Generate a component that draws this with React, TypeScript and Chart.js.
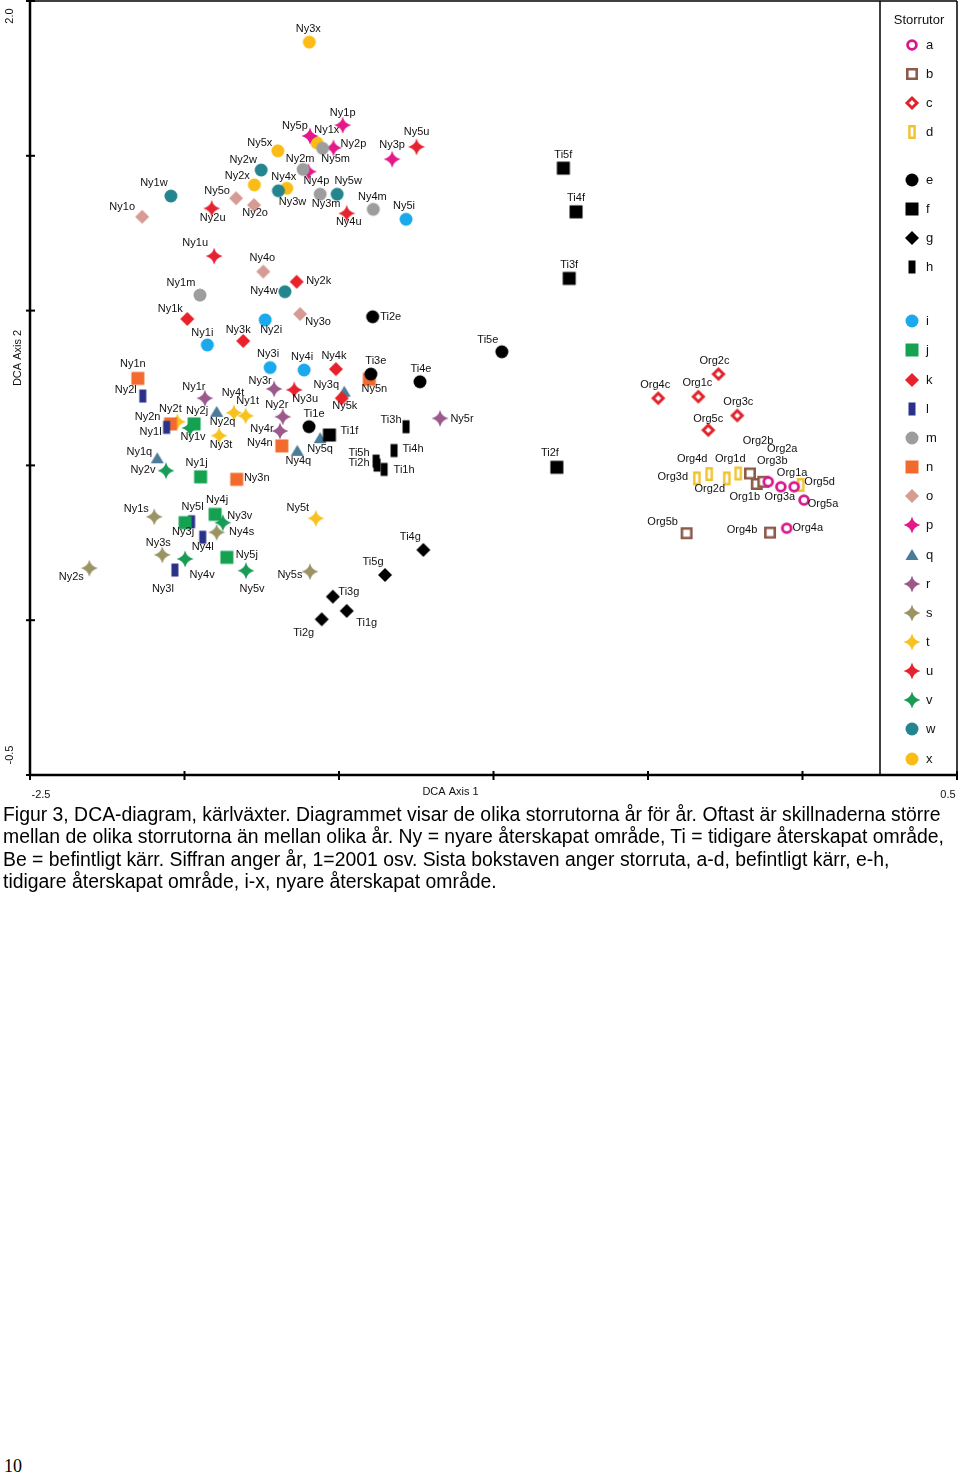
import React, { useEffect, useRef } from 'react';
import { Chart, registerables } from 'chart.js';

Chart.register(...registerables);

// ---------- data (DCA Axis 1 / DCA Axis 2 scores) ----------
const ORG_LABELS = [
  'Org1a', 'Org2a', 'Org3a', 'Org4a', 'Org5a',
  'Org1b', 'Org2b', 'Org3b', 'Org4b', 'Org5b',
  'Org1c', 'Org2c', 'Org3c', 'Org4c', 'Org5c',
  'Org1d', 'Org2d', 'Org3d', 'Org4d', 'Org5d',
];
const ORG_AXIS1 = [
  -0.027, -0.111, -0.070, -0.051, 0.005,
  -0.148, -0.170, -0.127, -0.105, -0.375,
  -0.337, -0.272, -0.211, -0.467, -0.305,
  -0.208, -0.245, -0.342, -0.302, -0.006,
];
const ORG_AXIS2 = [
  0.431, 0.447, 0.431, 0.297, 0.388,
  0.440, 0.474, 0.447, 0.283, 0.281,
  0.722, 0.795, 0.661, 0.717, 0.614,
  0.474, 0.458, 0.458, 0.472, 0.437,
];

const TI_LABELS = [
  'Ti1e', 'Ti2e', 'Ti3e', 'Ti4e', 'Ti5e',
  'Ti1f', 'Ti2f', 'Ti3f', 'Ti4f', 'Ti5f',
  'Ti1g', 'Ti2g', 'Ti3g', 'Ti4g', 'Ti5g',
  'Ti1h', 'Ti2h', 'Ti3h', 'Ti4h', 'Ti5h',
];
const TI_AXIS1 = [
  -1.597, -1.391, -1.397, -1.238, -0.973,
  -1.531, -0.795, -0.755, -0.733, -0.774,
  -1.475, -1.556, -1.520, -1.227, -1.351,
  -1.354, -1.377, -1.283, -1.322, -1.380,
];
const TI_AXIS2 = [
  0.625, 0.980, 0.795, 0.770, 0.867,
  0.598, 0.494, 1.104, 1.319, 1.460,
  0.030, 0.003, 0.076, 0.227, 0.146,
  0.487, 0.501, 0.625, 0.548, 0.514,
];

const NY_LABELS = [
  'Ny1i', 'Ny2i', 'Ny3i', 'Ny4i', 'Ny5i',
  'Ny1j', 'Ny2j', 'Ny3j', 'Ny4j', 'Ny5j',
  'Ny1k', 'Ny2k', 'Ny3k', 'Ny4k', 'Ny5k',
  'Ny1l', 'Ny2l', 'Ny3l', 'Ny4l', 'Ny5l',
  'Ny1m', 'Ny2m', 'Ny3m', 'Ny4m', 'Ny5m',
  'Ny1n', 'Ny2n', 'Ny3n', 'Ny4n', 'Ny5n',
  'Ny1o', 'Ny2o', 'Ny3o', 'Ny4o', 'Ny5o',
  'Ny1p', 'Ny2p', 'Ny3p', 'Ny4p', 'Ny5p',
  'Ny1q', 'Ny2q', 'Ny3q', 'Ny4q', 'Ny5q',
  'Ny1r', 'Ny2r', 'Ny3r', 'Ny4r', 'Ny5r',
  'Ny1s', 'Ny2s', 'Ny3s', 'Ny4s', 'Ny5s',
  'Ny1t', 'Ny2t', 'Ny3t', 'Ny4t', 'Ny5t',
  'Ny1u', 'Ny2u', 'Ny3u', 'Ny4u', 'Ny5u',
  'Ny1v', 'Ny2v', 'Ny3v', 'Ny4v', 'Ny5v',
  'Ny1w', 'Ny2w', 'Ny3w', 'Ny4w', 'Ny5w',
  'Ny1x', 'Ny2x', 'Ny3x', 'Ny4x', 'Ny5x',
];
const NY_AXIS1 = [
  -1.926, -1.739, -1.723, -1.613, -1.283,
  -1.948, -1.969, -1.998, -1.901, -1.863,
  -1.991, -1.637, -1.810, -1.510, -1.491,
  -2.058, -2.135, -2.031, -1.941, -1.977,
  -1.950, -1.616, -1.561, -1.389, -1.553,
  -2.151, -2.045, -1.831, -1.685, -1.402,
  -2.137, -1.775, -1.626, -1.745, -1.833,
  -1.488, -1.518, -1.328, -1.599, -1.594,
  -2.088, -1.896, -1.483, -1.635, -1.561,
  -1.934, -1.682, -1.710, -1.691, -1.173,
  -2.098, -2.308, -2.072, -1.896, -1.594,
  -1.802, -2.023, -1.888, -1.840, -1.575,
  -1.904, -1.912, -1.645, -1.475, -1.249,
  -1.982, -2.060, -1.876, -1.998, -1.801,
  -2.044, -1.752, -1.696, -1.675, -1.506,
  -1.572, -1.774, -1.596, -1.669, -1.698,
];
const NY_AXIS2 = [
  0.889, 0.970, 0.816, 0.808, 1.295,
  0.463, 0.634, 0.315, 0.342, 0.203,
  0.973, 1.093, 0.902, 0.811, 0.717,
  0.623, 0.724, 0.162, 0.268, 0.318,
  1.050, 1.456, 1.376, 1.327, 1.524,
  0.781, 0.634, 0.455, 0.563, 0.778,
  1.303, 1.341, 0.989, 1.126, 1.363,
  1.599, 1.526, 1.489, 1.449, 1.564,
  0.523, 0.673, 0.738, 0.547, 0.588,
  0.717, 0.657, 0.747, 0.611, 0.652,
  0.334, 0.168, 0.211, 0.284, 0.157,
  0.660, 0.641, 0.596, 0.670, 0.329,
  1.176, 1.330, 0.744, 1.314, 1.529,
  0.621, 0.483, 0.315, 0.198, 0.160,
  1.370, 1.454, 1.387, 1.061, 1.376,
  1.542, 1.406, 1.867, 1.395, 1.516,
];

const STORRUTOR = ['a', 'b', 'c', 'd', 'e', 'f', 'g', 'h', 'i', 'j', 'k', 'l', 'm', 'n', 'o', 'p', 'q', 'r', 's', 't', 'u', 'v', 'w', 'x'];
const X_TICKS = [-2.5, -2.0, -1.5, -1.0, -0.5, 0.0, 0.5];
const Y_TICKS = [-0.5, 0.0, 0.5, 1.0, 1.5, 2.0];
const X_END_LABELS = ['-2.5', '0.5'];
const Y_END_LABELS = ['2.0', '-0.5'];

// ---------- styles ----------
type Shape = 'circle' | 'square' | 'diamond' | 'tall' | 'triangle' | 'star4';
const MARKER: Record<string, { shape: Shape; color: string; hollow?: boolean }> = {
  a: { shape: 'circle', color: '#d8178c', hollow: true },
  b: { shape: 'square', color: '#8c5a4a', hollow: true },
  c: { shape: 'diamond', color: '#e0222b', hollow: true },
  d: { shape: 'tall', color: '#f2c22e', hollow: true },
  e: { shape: 'circle', color: '#000000' },
  f: { shape: 'square', color: '#000000' },
  g: { shape: 'diamond', color: '#000000' },
  h: { shape: 'tall', color: '#000000' },
  i: { shape: 'circle', color: '#1ba8ec' },
  j: { shape: 'square', color: '#14a251' },
  k: { shape: 'diamond', color: '#e8212b' },
  l: { shape: 'tall', color: '#2b3188' },
  m: { shape: 'circle', color: '#9d9d9d' },
  n: { shape: 'square', color: '#f26a2e' },
  o: { shape: 'diamond', color: '#d69c94' },
  p: { shape: 'star4', color: '#e5188a' },
  q: { shape: 'triangle', color: '#4a7c98' },
  r: { shape: 'star4', color: '#9b5a8b' },
  s: { shape: 'star4', color: '#9a9364' },
  t: { shape: 'star4', color: '#f8c21e' },
  u: { shape: 'star4', color: '#e52330' },
  v: { shape: 'star4', color: '#179b55' },
  w: { shape: 'circle', color: '#25858f' },
  x: { shape: 'circle', color: '#fbbc15' },
};

// label offset from point (px): [dx, dy]
const LABEL_OFFSET: Record<string, [number, number]> = {
  Ny3x: [-1, -13], Ny1p: [0, -12], Ny5p: [-15, -10], Ny1x: [10, -13], Ny2p: [20, -4],
  Ny5m: [13, 11], Ny5x: [-18, -8], Ny3p: [0, -14], Ny5u: [0, -15], Ny2m: [-3, -10],
  Ny4p: [8, 9], Ny2w: [-18, -10], Ny2x: [-17, -9], Ny4x: [-3, -11], Ny3w: [14, 11],
  Ny5w: [11, -13], Ny3m: [6, 10], Ny4m: [-1, -12], Ny5i: [-2, -13], Ny4u: [2, 9],
  Ny1w: [-17, -13], Ny5o: [-19, -7], Ny2o: [1, 8], Ny2u: [1, 10], Ny1o: [-20, -10],
  Ny1u: [-19, -13], Ny4o: [-1, -14], Ny2k: [22, -1], Ny4w: [-21, -1], Ny1m: [-19, -12],
  Ny1k: [-17, -10], Ny2i: [6, 10], Ny3o: [18, 8], Ti2e: [18, 0], Ny1i: [-5, -12],
  Ny3k: [-5, -11], Ny3i: [-2, -14], Ny4i: [-2, -13], Ny4k: [-2, -13], Ti3e: [5, -13],
  Ny5n: [5, 10], Ti4e: [1, -13], Ny1n: [-5, -14], Ny2l: [-17, -6], Ny1r: [-11, -11],
  Ny3r: [-14, -8], Ny3u: [11, 9], Ny3q: [-18, -7], Ny5k: [3, 8], Ny4t: [-1, -20],
  Ny1t: [2, -15], Ny2q: [6, 10], Ny2r: [-6, -12], Ny5r: [22, 1], Ny2t: [-7, -13],
  Ny2n: [-23, -7], Ny1l: [-16, 5], Ny2j: [3, -13], Ny1v: [3, 9], Ti1e: [5, -13],
  Ny4r: [-18, -2], Ti1f: [20, -4], Ny5q: [0, 11], Ny3t: [2, 9], Ti3h: [-15, -7],
  Ny4n: [-22, -3], Ti4h: [19, -2], Ny4q: [1, 10], Ny1q: [-18, -6], Ti5h: [-17, -8],
  Ti2h: [-18, -2], Ti1h: [20, 1], Ny2v: [-23, -1], Ny1j: [-4, -14], Ny3n: [20, -1],
  Ny1s: [-18, -8], Ny5l: [1, -15], Ny4j: [2, -14], Ny3v: [17, -7], Ny3j: [-2, 9],
  Ny4s: [25, 0], Ny4l: [0, 10], Ny5t: [-18, -10], Ti4g: [-13, -13], Ny3s: [-4, -12],
  Ny4v: [17, 16], Ny5j: [20, -2], Ny2s: [-18, 9], Ny3l: [-12, 19], Ny5v: [6, 18],
  Ny5s: [-20, 3], Ti5g: [-12, -13], Ti3g: [16, -5], Ti1g: [20, 12], Ti2g: [-18, 14],
  Ti5f: [0, -13], Ti4f: [0, -14], Ti3f: [0, -13], Ti5e: [-14, -12], Ti2f: [-7, -14],
  Org2c: [-4, -13], Org4c: [-3, -13], Org1c: [-1, -14], Org3c: [1, -14], Org5c: [0, -11],
  Org2b: [8, -32], Org2a: [14, -33], Org3b: [9, -21], Org1a: [-2, -14], Org5d: [19, -3],
  Org5a: [19, 4], Org3a: [-1, 10], Org1b: [-12, 13], Org2d: [-17, 11], Org1d: [-8, -14],
  Org4d: [-17, -15], Org3d: [-24, -1], Org5b: [-24, -11], Org4b: [-28, -3], Org4a: [21, 0],
};

// legend row positions (px from top) — grouped like the reference
const LEGEND_ROWS = [45, 74, 103, 132, 180, 209, 238, 267, 321, 350, 380, 409, 438, 467, 496, 525, 555, 584, 613, 642, 671, 700, 729, 759];

function makeMarker(shape: Shape, color: string, hollow?: boolean): HTMLCanvasElement {
  const S = 22;
  const c = document.createElement('canvas');
  c.width = S;
  c.height = S;
  const ctx = c.getContext('2d')!;
  const m = S / 2;
  ctx.fillStyle = color;
  ctx.strokeStyle = color;
  ctx.beginPath();
  switch (shape) {
    case 'circle':
      if (hollow) {
        ctx.lineWidth = 2.8;
        ctx.arc(m, m, 4.4, 0, Math.PI * 2);
        ctx.fillStyle = '#fff';
        ctx.fill();
        ctx.stroke();
      } else {
        ctx.arc(m, m, 6.5, 0, Math.PI * 2);
        ctx.fill();
      }
      break;
    case 'square':
      if (hollow) {
        ctx.lineWidth = 2.6;
        ctx.rect(m - 4.7, m - 4.7, 9.4, 9.4);
        ctx.fillStyle = '#fff';
        ctx.fill();
        ctx.stroke();
      } else {
        ctx.rect(m - 6.5, m - 6.5, 13, 13);
        ctx.fill();
      }
      break;
    case 'diamond':
      if (hollow) {
        ctx.lineWidth = 3;
        ctx.moveTo(m, m - 5);
        ctx.lineTo(m + 5, m);
        ctx.lineTo(m, m + 5);
        ctx.lineTo(m - 5, m);
        ctx.closePath();
        ctx.fillStyle = '#fff';
        ctx.fill();
        ctx.stroke();
      } else {
        ctx.moveTo(m, m - 7);
        ctx.lineTo(m + 7, m);
        ctx.lineTo(m, m + 7);
        ctx.lineTo(m - 7, m);
        ctx.closePath();
        ctx.fill();
      }
      break;
    case 'tall':
      if (hollow) {
        ctx.lineWidth = 2.4;
        ctx.rect(m - 2.6, m - 5.8, 5.2, 11.6);
        ctx.fillStyle = '#fff';
        ctx.fill();
        ctx.stroke();
      } else {
        ctx.rect(m - 3.5, m - 6.5, 7, 13);
        ctx.fill();
      }
      break;
    case 'triangle':
      ctx.moveTo(m, m - 6);
      ctx.lineTo(m + 6.5, m + 5);
      ctx.lineTo(m - 6.5, m + 5);
      ctx.closePath();
      ctx.fill();
      break;
    case 'star4': {
      const R = 8.5;
      const k = 1.6;
      ctx.moveTo(m, m - R);
      ctx.quadraticCurveTo(m + k, m - k, m + R, m);
      ctx.quadraticCurveTo(m + k, m + k, m, m + R);
      ctx.quadraticCurveTo(m - k, m + k, m - R, m);
      ctx.quadraticCurveTo(m - k, m - k, m, m - R);
      ctx.closePath();
      ctx.fill();
      break;
    }
  }
  return c;
}

const LABEL_FONT = '11px "Liberation Sans", Arial, sans-serif';

export default function App() {
  const canvasRef = useRef<HTMLCanvasElement | null>(null);

  useEffect(() => {
    const canvas = canvasRef.current;
    if (!canvas) return;

    const markers: Record<string, HTMLCanvasElement> = {};
    STORRUTOR.forEach((s) => {
      const st = MARKER[s];
      markers[s] = makeMarker(st.shape, st.color, st.hollow);
    });

    const all: { label: string; x: number; y: number }[] = [];
    const push = (labels: string[], xs: number[], ys: number[]) =>
      labels.forEach((l, i) => all.push({ label: l, x: xs[i], y: ys[i] }));
    push(ORG_LABELS, ORG_AXIS1, ORG_AXIS2);
    push(TI_LABELS, TI_AXIS1, TI_AXIS2);
    push(NY_LABELS, NY_AXIS1, NY_AXIS2);

    const datasets = STORRUTOR.map((s) => ({
      label: s,
      data: all.filter((p) => p.label.endsWith(s)),
      pointStyle: markers[s] as any,
      pointRadius: 7,
      pointHoverRadius: 7,
      backgroundColor: MARKER[s].color,
      borderColor: MARKER[s].color,
      showLine: false,
    }));

    const decor = {
      id: 'decor',
      afterDatasetsDraw(chart: any) {
        const ctx: CanvasRenderingContext2D = chart.ctx;
        const xs = chart.scales.x;
        const ys = chart.scales.y;
        const { left, right, top, bottom } = chart.chartArea;
        ctx.save();

        // point labels
        ctx.font = LABEL_FONT;
        ctx.fillStyle = '#111';
        ctx.textAlign = 'center';
        ctx.textBaseline = 'middle';
        chart.data.datasets.forEach((ds: any, di: number) => {
          const meta = chart.getDatasetMeta(di);
          meta.data.forEach((el: any, i: number) => {
            const lab = ds.data[i].label as string;
            const off = LABEL_OFFSET[lab] || [0, -13];
            ctx.fillText(lab, el.x + off[0], el.y + off[1]);
          });
        });

        // frame and axes
        ctx.strokeStyle = '#000';
        ctx.lineWidth = 1.5;
        ctx.beginPath();
        ctx.moveTo(left, top);
        ctx.lineTo(right, top);
        ctx.stroke();
        ctx.lineWidth = 2.5;
        ctx.beginPath();
        ctx.moveTo(left, top);
        ctx.lineTo(left, bottom);
        ctx.lineTo(right, bottom);
        ctx.stroke();

        // ticks
        ctx.lineWidth = 2;
        X_TICKS.forEach((v) => {
          const px = xs.getPixelForValue(v);
          ctx.beginPath();
          ctx.moveTo(px, bottom - 4);
          ctx.lineTo(px, bottom + 5);
          ctx.stroke();
        });
        Y_TICKS.forEach((v) => {
          const py = ys.getPixelForValue(v);
          ctx.beginPath();
          ctx.moveTo(left - 4, py);
          ctx.lineTo(left + 5, py);
          ctx.stroke();
        });

        // tick labels & axis titles
        ctx.fillStyle = '#111';
        ctx.font = '11px "Liberation Sans", Arial, sans-serif';
        ctx.textAlign = 'center';
        ctx.textBaseline = 'middle';
        ctx.fillText(X_END_LABELS[0], xs.getPixelForValue(X_TICKS[0]) + 11, bottom + 20);
        ctx.fillText(X_END_LABELS[1], xs.getPixelForValue(X_TICKS[X_TICKS.length - 1]) - 9, bottom + 20);
        ctx.fillText('DCA Axis 1', (left + right) / 2 - 43, bottom + 17);

        const rot = (t: string, x: number, y: number) => {
          ctx.save();
          ctx.translate(x, y);
          ctx.rotate(-Math.PI / 2);
          ctx.fillText(t, 0, 0);
          ctx.restore();
        };
        rot(Y_END_LABELS[0], left - 20, ys.getPixelForValue(2.0) + 15);
        rot(Y_END_LABELS[1], left - 20, ys.getPixelForValue(-0.5) - 20);
        rot('DCA Axis 2', left - 12, (top + bottom) / 2 - 30);

        // legend box
        const lx0 = 880;
        ctx.lineWidth = 1.5;
        ctx.beginPath();
        ctx.moveTo(lx0, top);
        ctx.lineTo(lx0, bottom);
        ctx.moveTo(right, top);
        ctx.lineTo(right, bottom);
        ctx.stroke();
        ctx.font = '13px "Liberation Sans", Arial, sans-serif';
        ctx.textAlign = 'center';
        ctx.fillText('Storrutor', 919, 20);
        ctx.textAlign = 'left';
        STORRUTOR.forEach((s, i) => {
          const y = LEGEND_ROWS[i];
          const img = markers[s];
          ctx.drawImage(img, 912 - img.width / 2, y - img.height / 2);
          ctx.fillText(s, 926, y);
        });

        ctx.restore();
      },
    };

    const chart = new Chart(canvas, {
      type: 'scatter',
      data: { datasets: datasets as any },
      options: {
        responsive: false,
        animation: false,
        layout: { autoPadding: false, padding: { left: 30, top: 1, right: 3, bottom: 30 } },
        scales: {
          x: { type: 'linear', min: -2.5, max: 0.5, display: false },
          y: { type: 'linear', min: -0.5, max: 2.0, display: false },
        },
        plugins: {
          legend: { display: false },
          tooltip: { enabled: false },
        },
        elements: { point: { radius: 7 } },
        clip: false as any,
      },
      plugins: [decor],
    });

    return () => chart.destroy();
  }, []);

  return (
    <div style={{ position: 'absolute', left: 0, top: 0, width: 960, height: 1477, background: '#fff' }}>
      <canvas ref={canvasRef} width={960} height={805} style={{ position: 'absolute', left: 0, top: 0, width: 960, height: 805 }} />
      <div
        style={{
          position: 'absolute',
          left: 3,
          top: 803,
          fontFamily: '"Liberation Sans", Arial, sans-serif',
          fontSize: 19.4,
          lineHeight: '22.3px',
          color: '#000',
          whiteSpace: 'nowrap',
        }}
      >
        Figur 3, DCA-diagram, kärlväxter. Diagrammet visar de olika storrutorna år för år. Oftast är skillnaderna större
        <br />
        mellan de olika storrutorna än mellan olika år. Ny = nyare återskapat område, Ti = tidigare återskapat område,
        <br />
        Be = befintligt kärr. Siffran anger år, 1=2001 osv. Sista bokstaven anger storruta, a-d, befintligt kärr, e-h,
        <br />
        tidigare återskapat område, i-x, nyare återskapat område.
      </div>
      <div
        style={{
          position: 'absolute',
          left: 4,
          top: 1456,
          fontFamily: '"Liberation Serif", "Times New Roman", serif',
          fontSize: 18,
          color: '#000',
        }}
      >
        10
      </div>
    </div>
  );
}
